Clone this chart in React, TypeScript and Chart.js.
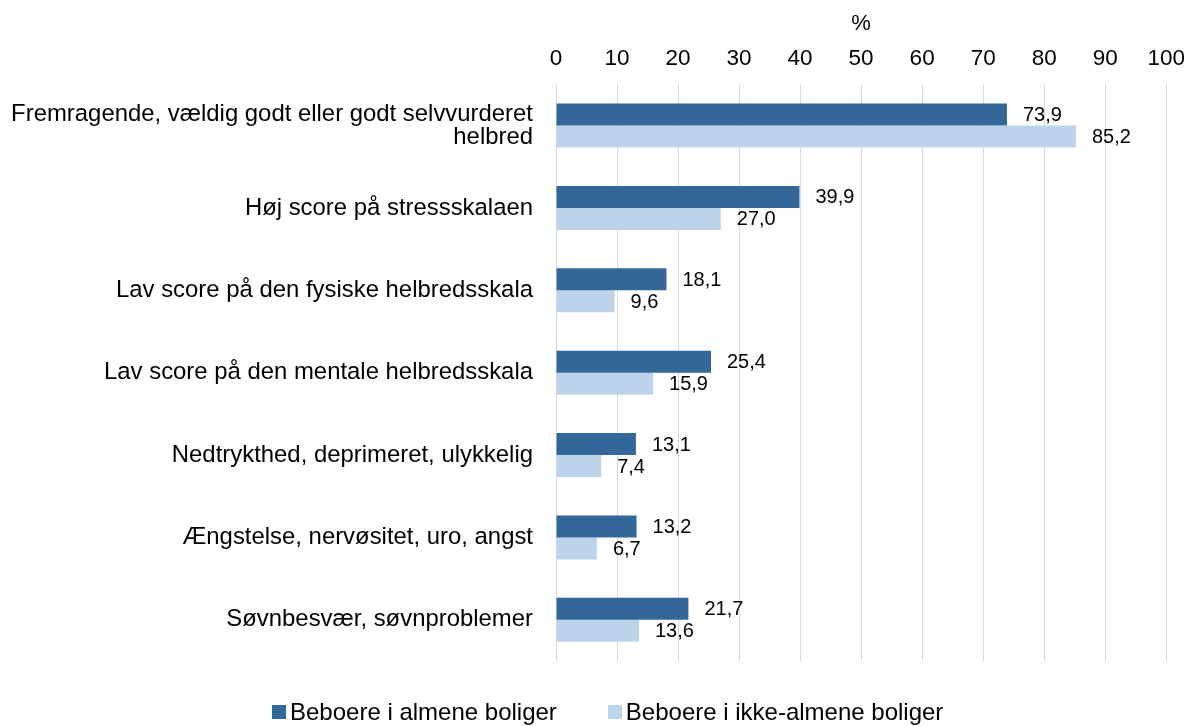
import React, { useEffect, useRef } from "react";
import { Chart, registerables } from "chart.js";

Chart.register(...registerables);

const categories: (string | string[])[] = [
  ["Fremragende, vældig godt eller godt selvvurderet", "helbred"],
  "Høj score på stressskalaen",
  "Lav score på den fysiske helbredsskala",
  "Lav score på den mentale helbredsskala",
  "Nedtrykthed, deprimeret, ulykkelig",
  "Ængstelse, nervøsitet, uro, angst",
  "Søvnbesvær, søvnproblemer",
];
const almene = [73.9, 39.9, 18.1, 25.4, 13.1, 13.2, 21.7];
const ikkeAlmene = [85.2, 27.0, 9.6, 15.9, 7.4, 6.7, 13.6];
const seriesNames = ["Beboere i almene boliger", "Beboere i ikke-almene boliger"];
const colors = ["#336699", "#BCD3EA"];
const FONT = "Arial, 'Liberation Sans', sans-serif";

const dataLabelPlugin = {
  id: "dataLabels",
  afterDatasetsDraw(chart: any) {
    const ctx = chart.ctx;
    ctx.save();
    ctx.font = `20px ${FONT}`;
    ctx.fillStyle = "#000";
    ctx.textAlign = "left";
    ctx.textBaseline = "middle";
    chart.data.datasets.forEach((ds: any, di: number) => {
      const meta = chart.getDatasetMeta(di);
      meta.data.forEach((bar: any, i: number) => {
        const v = ds.data[i] as number;
        ctx.fillText(v.toFixed(1).replace(".", ","), bar.x + 16, bar.y + 1);
      });
    });
    ctx.restore();
  },
};

export default function App() {
  const ref = useRef<HTMLCanvasElement>(null);
  useEffect(() => {
    const chart = new Chart(ref.current!, {
      type: "bar",
      data: {
        labels: categories,
        datasets: [
          { label: seriesNames[0], data: almene, backgroundColor: colors[0], barPercentage: 1, categoryPercentage: 0.535 },
          { label: seriesNames[1], data: ikkeAlmene, backgroundColor: colors[1], barPercentage: 1, categoryPercentage: 0.535 },
        ],
      },
      options: {
        indexAxis: "y",
        animation: false,
        responsive: true,
        maintainAspectRatio: false,
        layout: { padding: { left: 0, right: 30, top: 11, bottom: 65 } },
        scales: {
          x: {
            position: "top",
            min: 0,
            max: 100,
            ticks: { stepSize: 10, color: "#000", font: { family: FONT, size: 22.5, lineHeight: 1.2 }, padding: 12 },
            grid: { color: "#D9D9D9", drawTicks: false, lineWidth: 1 },
            border: { display: false },
            title: { display: true, text: "%", color: "#000", font: { family: FONT, size: 22, lineHeight: 1.2 }, padding: { top: 0, bottom: -4 } },
          },
          y: {
            ticks: { color: "#000", font: { family: FONT, size: 23.9, lineHeight: 0.96 }, padding: 23 },
            grid: { display: false, drawTicks: false },
            border: { display: false },
            afterFit: (s: any) => { s.width = 556; },
          },
        },
        plugins: {
          legend: { display: false },
          tooltip: { enabled: false },
        },
      },
      plugins: [dataLabelPlugin],
    } as any);
    return () => chart.destroy();
  }, []);
  return (
    <div style={{ position: "fixed", left: 0, top: 0, width: 1197, height: 726, background: "#fff" }}>
      <canvas ref={ref} />
      <div
        style={{
          position: "absolute",
          left: 272,
          top: 698,
          display: "flex",
          alignItems: "center",
          gap: 51,
          fontFamily: FONT,
          fontSize: 24,
          lineHeight: "27px",
          color: "#000",
          whiteSpace: "nowrap",
        }}
      >
        {seriesNames.map((n, i) => (
          <div key={n} style={{ display: "flex", alignItems: "center" }}>
            <span style={{ display: "inline-block", width: 14, height: 14, background: colors[i], marginRight: 4 }} />
            <span>{n}</span>
          </div>
        ))}
      </div>
    </div>
  );
}
